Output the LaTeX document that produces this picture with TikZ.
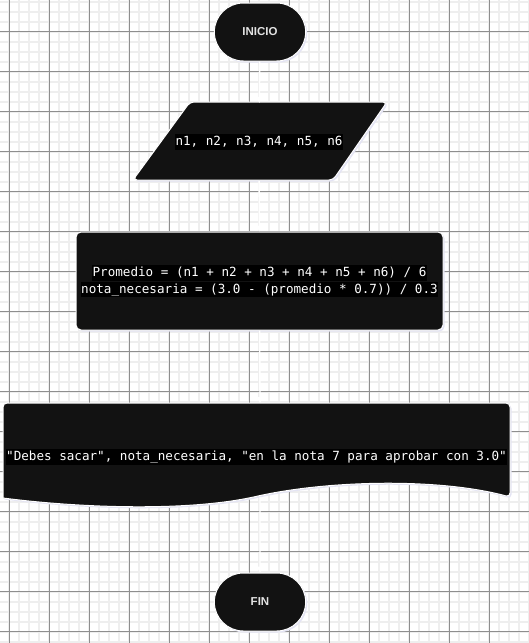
\documentclass[tikz,border=0pt]{standalone}
\usepackage{fontspec}
\setmainfont{Liberation Sans}
\setmonofont{DejaVu Sans Mono}
\usetikzlibrary{arrows.meta,positioning,shapes.misc,shadows}
\definecolor{shapefill}{HTML}{121212}
\definecolor{gridminor}{HTML}{EEEEEE}
\definecolor{gridmajor}{HTML}{8E8E8E}
\definecolor{labelgray}{HTML}{E2E2E2}
\definecolor{glow}{HTML}{E4E4F4}
\newcommand{\codeline}[1]{{\setlength{\fboxsep}{0.5pt}\colorbox{black}{\rule[-3.6pt]{0pt}{14.8pt}#1}}}
\tikzset{
  minorline/.style = {gridminor, line width=1.8pt},
  majorline/.style = {gridmajor, line width=0.8pt},
  flowshape/.style = {fill=shapefill, draw=white, line width=1pt,
    drop shadow={fill=glow, opacity=1, shadow xshift=1.5pt, shadow yshift=-1.5pt}},
  terminal/.style = {flowshape, rounded rectangle, minimum width=98pt, minimum height=58pt,
    text=labelgray, font=\bfseries\fontsize{11.5}{13}\selectfont},
  process/.style = {flowshape, rectangle, rounded corners=5pt, minimum width=367pt, minimum height=98pt},
  codetext/.style = {text=white, inner sep=0pt, align=center, font=\ttfamily\fontsize{12.6}{15.5}\selectfont},
  flow/.style = {-{Triangle[width=7pt,length=6pt]}, white, line width=1.4pt},
}
\begin{document}
\begin{tikzpicture}[x=1pt, y=-1pt]
  \useasboundingbox (0,0) rectangle (529,643);
  \fill[white] (0,0) rectangle (529,643);
  % grid
  \foreach \x in {9,19,...,529} \draw[minorline] (\x,0) -- (\x,643);
  \foreach \y in {1.7,11.7,...,643} \draw[minorline] (0,\y) -- (529,\y);
  \foreach \x in {9,49,...,529} \draw[majorline] (\x,0) -- (\x,643);
  \foreach \y in {31.7,71.7,...,643} \draw[majorline] (0,\y) -- (529,\y);

  % start
  \node[terminal] (inicio) at (260,32) {INICIO};

  % input
  \path[flowshape, rounded corners=4pt] (190,102) -- (387,102) -- (333,180) -- (133,180) -- cycle;
  \node[codetext, minimum height=78pt] (datos) at (259,142) {\codeline{n1, n2, n3, n4, n5, n6}};

  % process
  \node[process] (proceso) at (259.5,281) {};
  \node[codetext] (calculo) at (proceso.center) {\codeline{Promedio = (n1 + n2 + n3 + n4 + n5 + n6) / 6}\\
    \codeline{nota\_necesaria = (3.0 - (promedio * 0.7)) / 0.3}};

  % output document
  \path[flowshape, rounded corners=4pt] (3,497) -- (3,403) -- (510,403) -- (510,497) [sharp corners]
    .. controls (440,478) and (330,480) .. (258,496)
    .. controls (190,512) and (80,508) .. (3,498) -- cycle;
  \coordinate (doctop) at (260,403);
  \coordinate (docbot) at (260,497);
  \node[codetext] (salida) at (256.5,457) {\codeline{"Debes sacar", nota\_necesaria, "en la nota 7 para aprobar con 3.0"}};

  % end
  \node[terminal] (fin) at (260,602) {FIN};

  % connectors
  \draw[flow] (inicio) -- (datos);
  \draw[flow] (datos) -- (proceso);
  \draw[flow] (proceso) -- (doctop);
  \draw[flow] (docbot) -- (fin);
\end{tikzpicture}
\end{document}
